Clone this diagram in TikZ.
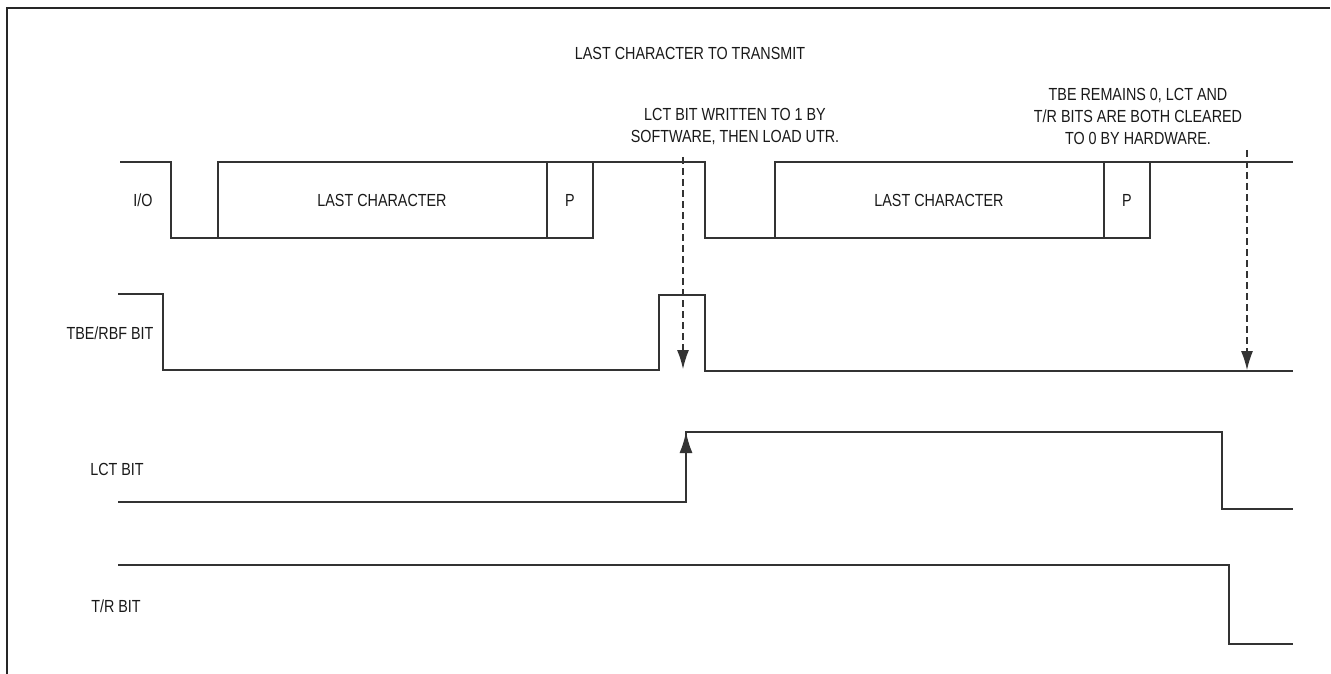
\documentclass[tikz,border=0pt]{standalone}
\usepackage{fontspec}
\setmainfont[FakeStretch=0.82]{Liberation Sans}
\usetikzlibrary{arrows.meta}
\begin{document}
\begin{tikzpicture}[x=1pt,y=-1pt,
  wave/.style={line width=1.5pt, draw=black!80, line join=miter},
  frame/.style={line width=2pt, draw=black!85},
  lbl/.style={font=\fontsize{17.5}{22}\selectfont, inner sep=0pt, align=center, text=black!90},
  dasharrow/.style={line width=1.2pt, draw=black!80, dash pattern=on 7pt off 4pt, -{Latex[length=19pt,width=12pt]}},
  solidarrow/.style={line width=1.5pt, draw=black!80, -{Latex[length=21pt,width=13pt]}}]
\useasboundingbox (0,0) rectangle (1331,674);
% frame
\draw[frame] (7,674) -- (7,8) -- (1330,8);
% texts
\node[lbl] (title) at (690,53) {LAST CHARACTER TO TRANSMIT};
\node[lbl] (note1) at (735,127) {LCT BIT WRITTEN TO 1 BY\\SOFTWARE, THEN LOAD UTR.};
\node[lbl] (note2) at (1138,116) {TBE REMAINS 0, LCT AND\\T/R BITS ARE BOTH CLEARED\\TO 0 BY HARDWARE.};
\node[lbl] (lio) at (143,200) {I/O};
\node[lbl] (ltbe) at (110,333) {TBE/RBF BIT};
\node[lbl] (llct) at (117,469) {LCT BIT};
\node[lbl] (ltr) at (116,606) {T/R BIT};
% I/O waveform
\draw[wave] (120,162) -- (171,162) -- (171,238) -- (218,238);
\draw[wave] (218,162) rectangle (593,238);
\draw[wave] (547,162) -- (547,238);
\node[lbl] (c1) at (382,200) {LAST CHARACTER};
\node[lbl] (p1) at (570,200) {P};
\draw[wave] (593,162) -- (705,162) -- (705,238) -- (775,238);
\draw[wave] (775,162) rectangle (1150,238);
\draw[wave] (1104,162) -- (1104,238);
\node[lbl] (c2) at (939,200) {LAST CHARACTER};
\node[lbl] (p2) at (1127,200) {P};
\draw[wave] (1150,162) -- (1293,162);
% TBE/RBF
\draw[wave] (118,294) -- (163,294) -- (163,370) -- (659,370) -- (659,295) -- (705,295) -- (705,371) -- (1293,371);
% LCT
\draw[wave] (118,502) -- (686,502) -- (686,432) -- (1222,432) -- (1222,509) -- (1293,509);
% T/R
\draw[wave] (118,565) -- (1229,565) -- (1229,644) -- (1293,644);
% arrows
\coordinate (a1s) at (683,157);
\coordinate (a1e) at (683,369);
\coordinate (a2s) at (1247,150);
\coordinate (a2e) at (1247,370);
\coordinate (a3s) at (686,470);
\coordinate (a3e) at (686,432);
\draw[dasharrow] (a1s) -- (a1e);
\draw[dasharrow] (a2s) -- (a2e);
\draw[solidarrow] (a3s) -- (a3e);
\end{tikzpicture}
\end{document}
